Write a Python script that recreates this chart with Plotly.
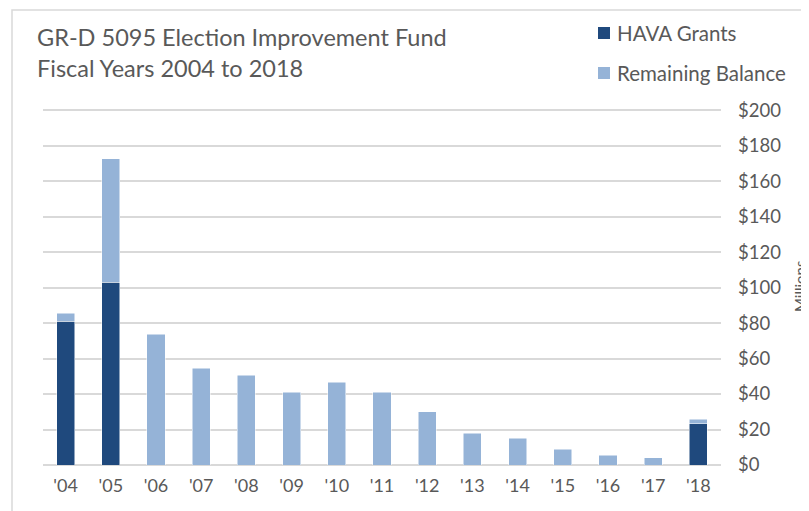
import plotly.graph_objects as go

years = ["'04", "'05", "'06", "'07", "'08", "'09", "'10", "'11", "'12", "'13", "'14", "'15", "'16", "'17", "'18"]
hava_grants = [81, 103, 0, 0, 0, 0, 0, 0, 0, 0, 0, 0, 0, 0, 23.2]
remaining_balance = [4.6, 69.5, 73.6, 54.5, 50.6, 41, 46.6, 41, 30, 18, 15, 9, 5.6, 4, 2.6]
y_ticks = [0, 20, 40, 60, 80, 100, 120, 140, 160, 180, 200]
y_tick_text = ["$" + str(v) for v in y_ticks]

DARK = "#1F497D"
LIGHT = "#95B3D7"
GRAY = "#595959"
FONT = "Lato"

fig = go.Figure()
fig.add_trace(go.Bar(x=years, y=hava_grants, name="HAVA Grants", marker=dict(color=DARK, line=dict(color="white", width=0.5))))
fig.add_trace(go.Bar(x=years, y=remaining_balance, name="Remaining Balance", marker=dict(color=LIGHT, line=dict(color="white", width=0.5))))

OFF = 8  # page body offset
L, R, T, B = 43, 721, 109, 465  # plot area in screen pixels
W, H = 809 - OFF, 511 - OFF
pw, ph = R - L, B - T

def px(x):
    return (x - L) / pw

def py(y):
    return (B - y) / ph

shapes = [dict(type="rect", xref="paper", yref="paper", x0=px(12), x1=px(830), y0=py(530), y1=py(10),
               line=dict(color="#D9D9D9", width=1.5), fillcolor="rgba(0,0,0,0)", layer="below")]
annotations = [
    dict(text="GR-D 5095 Election Improvement Fund<br>Fiscal Years 2004 to 2018", xref="paper", yref="paper",
         x=px(35), y=py(21), xanchor="left", yanchor="top", align="left", showarrow=False,
         font=dict(size=23.5, color=GRAY, family=FONT)),
    dict(text="Millions", xref="paper", yref="paper", x=px(800), y=py(287), textangle=-90,
         xanchor="center", yanchor="middle", showarrow=False, font=dict(size=15, color=GRAY, family=FONT)),
]
# legend drawn manually
for name, color, cy in [("HAVA Grants", DARK, 33), ("Remaining Balance", LIGHT, 73)]:
    shapes.append(dict(type="rect", xref="paper", yref="paper", x0=px(598), x1=px(610), y0=py(cy + 6), y1=py(cy - 6),
                       fillcolor=color, line=dict(width=0)))
    annotations.append(dict(text=name, xref="paper", yref="paper", x=px(615), y=py(cy), xanchor="left",
                            yanchor="middle", showarrow=False, font=dict(size=20.5, color=GRAY, family=FONT)))

fig.update_layout(
    width=W, height=H,
    margin=dict(l=L - OFF, r=W - (R - OFF), t=T - OFF, b=H - (B - OFF), autoexpand=False),
    barmode="stack", bargap=0.6,
    paper_bgcolor="white", plot_bgcolor="white",
    font=dict(family=FONT, color=GRAY),
    showlegend=False,
    xaxis=dict(showgrid=False, showline=False, ticks="", tickfont=dict(size=18, color=GRAY, family=FONT),
               ticklabelstandoff=8),
    yaxis=dict(side="right", range=[0, 200.6], tickvals=y_ticks, ticktext=y_tick_text,
               showgrid=True, gridcolor="#D9D9D9", gridwidth=1.5, zeroline=True, zerolinecolor="#D9D9D9",
               zerolinewidth=1.5, showline=False, ticks="", tickfont=dict(size=18.5, color=GRAY, family=FONT),
               ticklabelstandoff=16),
    shapes=shapes,
    annotations=annotations,
)

fig.write_html("out.html")
